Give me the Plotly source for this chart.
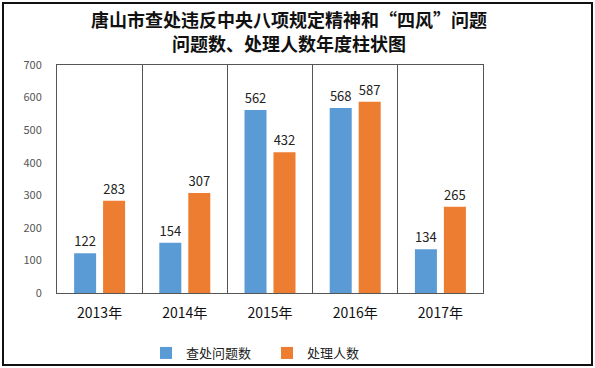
import plotly.graph_objects as go

categories = ["2013年", "2014年", "2015年", "2016年", "2017年"]
problems = [122, 154, 562, 568, 134]
people = [283, 307, 432, 587, 265]
series_names = ["查处问题数", "处理人数"]
title_lines = ["唐山市查处违反中央八项规定精神和“四风”问题", "问题数、处理人数年度柱状图"]

FONT = "Noto Sans CJK SC, Open Sans, sans-serif"

fig = go.Figure()
fig.add_trace(go.Bar(x=categories, y=problems, name=series_names[0],
                     marker=dict(color="#5B9BD5", line=dict(width=0)),
                     text=problems, textposition="outside",
                     textfont=dict(size=13, color="#222", family=FONT), cliponaxis=False))
fig.add_trace(go.Bar(x=categories, y=people, name=series_names[1],
                     marker=dict(color="#ED7D31", line=dict(width=0)),
                     text=people, textposition="outside",
                     textfont=dict(size=13, color="#222", family=FONT), cliponaxis=False))

L, R, T, B = 57, 112, 65, 75
W, H = 595, 368
pw, ph = W - L - R, H - T - B

def px(x):
    return (x - L) / pw

def py(y):
    return (H - B - y) / ph

title_ann = [dict(text=t, xref="paper", yref="paper", x=px(289), y=py(yy), xanchor="center",
                  yanchor="middle", showarrow=False,
                  font=dict(size=18, color="#111", family=FONT, weight="bold"))
             for t, yy in zip(title_lines, [19, 43])]

fig.update_layout(
    width=W, height=H,
    margin=dict(l=L, r=R, t=T, b=B, autoexpand=False),
    paper_bgcolor="white", plot_bgcolor="white",
    barmode="group", bargap=0.32, bargroupgap=0.24,
    font=dict(family=FONT, color="#222"),
    annotations=title_ann,
    showlegend=True,
    legend=dict(orientation="h", x=px(146), xanchor="left", y=py(353), yanchor="middle",
                font=dict(size=13, color="#222"), itemwidth=30, traceorder="normal",
                entrywidth=76, entrywidthmode="pixels",
                bgcolor="rgba(0,0,0,0)"),
    xaxis=dict(tickson="boundaries", showgrid=True, gridcolor="#555", gridwidth=1,
               showline=True, linecolor="#555", linewidth=1, mirror=True,
               ticks="", tickfont=dict(size=14, color="#111"), ticklabelstandoff=7),
    yaxis=dict(range=[0, 700], dtick=100, showgrid=False, showline=True, linecolor="#555",
               linewidth=1, mirror=True, ticks="", tickfont=dict(size=11, color="#555"),
               ticklabelstandoff=12, zeroline=False),
    shapes=[dict(type="rect", xref="paper", yref="paper", x0=px(3), x1=px(592), y0=py(365), y1=py(3),
                 line=dict(color="#111", width=2), layer="below")],
)

fig.write_html("out.html", config={"displayModeBar": False},
               post_script="document.body.style.margin='0px';document.body.style.overflow='hidden';")
